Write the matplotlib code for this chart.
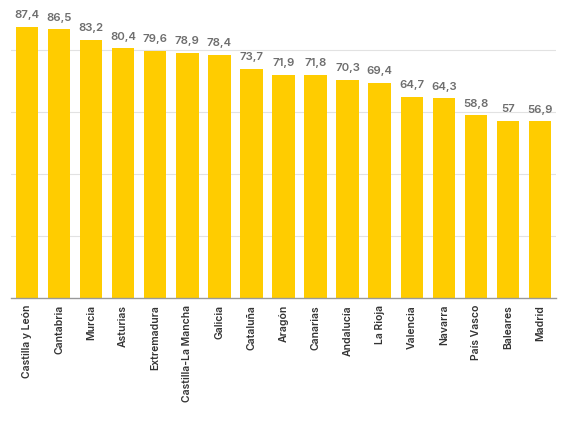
import matplotlib
matplotlib.use("Agg")
import matplotlib.pyplot as plt

regions = ["Castilla y León", "Cantabria", "Murcia", "Asturias", "Extremadura",
           "Castilla-La Mancha", "Galicia", "Cataluña", "Aragón", "Canarias",
           "Andalucía", "La Rioja", "Valencia", "Navarra", "País Vasco",
           "Baleares", "Madrid"]
values = [87.4, 86.5, 83.2, 80.4, 79.6, 78.9, 78.4, 73.7, 71.9, 71.8,
          70.3, 69.4, 64.7, 64.3, 58.8, 57.0, 56.9]

# Inter has a real semibold, close enough to the original's look
plt.rcParams['font.family'] = ['Inter', 'DejaVu Sans']

fig = plt.figure(figsize=(5.67, 4.28), dpi=100)
ax = fig.add_axes([11/567, 1 - 298/428, 545/567, 298/428])

x = range(len(regions))
ax.bar(x, values, width=0.7, color="#FFCC00", zorder=2)

# value labels on top of each bar
for i, v in enumerate(values):
    label = f"{v:g}".replace(".", ",")
    ax.text(i, v + 2.2, label, ha="center", va="bottom", fontsize=8.2,
            fontweight=600, color="#6e6e6e")

ax.set_xlim(-0.5, len(regions) - 0.5)
ax.set_ylim(0, 96)
ax.set_yticks([20, 40, 60, 80])
ax.yaxis.grid(True, color="#e2e2e2", linewidth=0.8, zorder=0)
ax.tick_params(axis="y", length=0, labelleft=False)
ax.set_xticks(list(x))
ax.set_xticklabels(regions, rotation=90, fontsize=7.5, fontweight=600,
                   color="#333333")
ax.tick_params(axis="x", length=0, pad=5)

for s in ["top", "right", "left"]:
    ax.spines[s].set_visible(False)
ax.spines["bottom"].set_color("#999999")
ax.spines["bottom"].set_linewidth(1)

fig.savefig("out.png", dpi=100)
